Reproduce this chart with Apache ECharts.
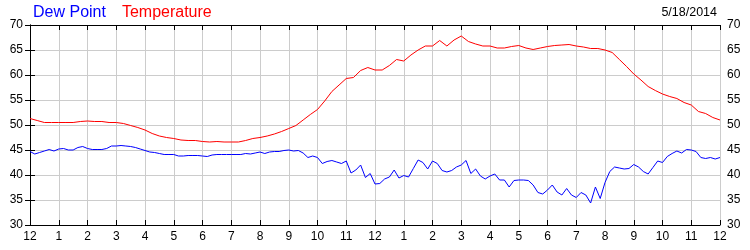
<!DOCTYPE html>
<html>
<head>
<meta charset="utf-8">
<script src="https://cdn.jsdelivr.net/npm/echarts@6/dist/echarts.min.js"></script>
<style>html,body{margin:0;padding:0;background:#fff}#c{width:750px;height:250px}</style>
</head>
<body>
<div id="c"></div>
<script>
// Temperature, every 15 minutes from 12 AM to 12 AM (97 values)
var tempStepHours = 0.25;
var tempValues = [
  51.3, 50.9, 50.5, 50.5,
  50.5, 50.5, 50.5, 50.7,
  50.8, 50.7, 50.7, 50.5,
  50.5, 50.3, 49.9, 49.5,
  49.0, 48.3, 47.8, 47.5,
  47.3, 47.0, 46.9, 46.9,
  46.7, 46.6, 46.7, 46.6,
  46.6, 46.6, 46.9, 47.3,
  47.5, 47.8, 48.2, 48.7,
  49.3, 49.9, 51.0, 52.1,
  53.1, 54.8, 56.7, 58.0,
  59.3, 59.5, 60.9, 61.5,
  61.0, 61.0, 61.9, 63.1,
  62.8, 64.0, 65.0, 65.8,
  65.8, 66.9, 65.8, 67.0,
  67.8, 66.7, 66.2, 65.8,
  65.8, 65.4, 65.4, 65.7,
  65.9, 65.4, 65.1, 65.4,
  65.7, 65.9, 66.0, 66.1,
  65.8, 65.6, 65.3, 65.3,
  65.0, 64.5, 63.1, 61.7,
  60.2, 59.0, 57.7, 56.9,
  56.2, 55.7, 55.3, 54.5,
  54.0, 52.7, 52.3, 51.5,
  51.0
];
// Dew point, every 10 minutes (145 values)
var dewStepHours = 1 / 6;
var dewValues = [
  44.7, 44.2, 44.5, 44.8, 45.1, 44.8,
  45.2, 45.3, 45.0, 45.0, 45.5, 45.7,
  45.3, 45.1, 45.1, 45.1, 45.3, 45.8,
  45.8, 45.9, 45.8, 45.7, 45.5, 45.2,
  44.9, 44.6, 44.5, 44.3, 44.1, 44.1,
  44.1, 43.8, 43.8, 43.9, 43.9, 43.9,
  43.8, 43.7, 44.0, 44.1, 44.1, 44.1,
  44.1, 44.1, 44.1, 44.3, 44.2, 44.4,
  44.6, 44.3, 44.6, 44.7, 44.7, 44.9,
  45.0, 44.8, 44.9, 44.4, 43.5, 43.8,
  43.5, 42.3, 42.7, 42.9, 42.6, 42.3,
  42.8, 40.4, 41.0, 42.0, 39.5, 40.3,
  38.2, 38.3, 39.2, 39.6, 41.0, 39.4,
  39.9, 39.6, 41.3, 43.0, 42.5, 41.2,
  42.8, 42.3, 40.9, 40.6, 40.9, 41.6,
  42.0, 42.9, 40.3, 41.2, 39.8, 39.2,
  39.8, 40.2, 39.0, 39.0, 37.6, 38.9,
  39.0, 39.0, 38.9, 38.0, 36.5, 36.2,
  37.0, 38.0, 36.6, 36.0, 37.3, 36.0,
  35.5, 36.5, 36.0, 34.4, 37.6, 35.3,
  38.5, 40.7, 41.6, 41.4, 41.2, 41.3,
  42.1, 41.6, 40.7, 40.2, 41.5, 42.8,
  42.5, 43.7, 44.3, 44.8, 44.4, 45.1,
  45.0, 44.7, 43.5, 43.3, 43.5, 43.2,
  43.5
];
var hourLabels = ['12','1','2','3','4','5','6','7','8','9','10','11','12','1','2','3','4','5','6','7','8','9','10','11','12'];
var seriesNames = ['Dew Point', 'Temperature'];
var dateText = '5/18/2014';

function toPairs(vals, step) {
  return vals.map(function (v, i) { return [i * step, v]; });
}

var font = 'Liberation Sans, Arial, sans-serif';
var chart = echarts.init(document.getElementById('c'), null, {renderer: 'canvas'});
var axisLineStyle = {lineStyle: {color: '#000', width: 1}};
chart.setOption({
  animation: false,
  backgroundColor: '#fff',
  grid: {left: 30, right: 30, top: 25, bottom: 25, containLabel: false},
  title: {
    text: dateText, right: 33, top: 6, padding: 0,
    textStyle: {fontFamily: font, fontSize: 12.5, fontWeight: 'normal', color: '#000'}
  },
  legend: {
    left: 28, top: 5, padding: 0, icon: 'none', itemWidth: 0, itemHeight: 14, itemGap: 11,
    selectedMode: false,
    textStyle: {fontFamily: font, fontSize: 16},
    data: [
      {name: seriesNames[0], textStyle: {color: '#0000ff'}},
      {name: seriesNames[1], textStyle: {color: '#ff0000'}}
    ]
  },
  xAxis: [
    {
      type: 'value', min: 0, max: 24, interval: 1, position: 'bottom',
      axisLine: axisLineStyle,
      axisTick: {show: true, inside: true, length: 5, lineStyle: {color: '#000'}},
      axisLabel: {
        margin: 6, color: '#000', fontFamily: font, fontSize: 12,
        formatter: function (v) { return hourLabels[Math.round(v)]; }
      },
      splitLine: {show: true, lineStyle: {color: '#cccccc', width: 1}}
    },
    {
      type: 'value', min: 0, max: 24, interval: 1, position: 'top',
      axisLine: axisLineStyle,
      axisTick: {show: true, inside: true, length: 5, lineStyle: {color: '#000'}},
      axisLabel: {show: false},
      splitLine: {show: false}
    }
  ],
  yAxis: [
    {
      type: 'value', min: 30, max: 70, interval: 5, position: 'left',
      axisLine: {show: true, lineStyle: {color: '#000', width: 1}},
      axisTick: {show: true, inside: true, length: 5, lineStyle: {color: '#000'}},
      axisLabel: {margin: 7, color: '#000', fontFamily: font, fontSize: 12},
      splitLine: {show: true, lineStyle: {color: '#cccccc', width: 1}}
    },
    {
      type: 'value', min: 30, max: 70, interval: 5, position: 'right',
      axisLine: {show: true, lineStyle: {color: '#000', width: 1}},
      axisTick: {show: true, inside: true, length: 5, lineStyle: {color: '#000'}},
      axisLabel: {margin: 7, color: '#000', fontFamily: font, fontSize: 12},
      splitLine: {show: false}
    }
  ],
  series: [
    {
      name: seriesNames[0], type: 'line', xAxisIndex: 0, yAxisIndex: 0,
      data: toPairs(dewValues, dewStepHours), showSymbol: false, symbol: 'none',
      lineStyle: {color: '#0000ff', width: 1}, itemStyle: {color: '#0000ff'}, z: 3
    },
    {
      name: seriesNames[1], type: 'line', xAxisIndex: 0, yAxisIndex: 0,
      data: toPairs(tempValues, tempStepHours), showSymbol: false, symbol: 'none',
      lineStyle: {color: '#ff0000', width: 1}, itemStyle: {color: '#ff0000'}, z: 3
    }
  ]
});
</script>
</body>
</html>
